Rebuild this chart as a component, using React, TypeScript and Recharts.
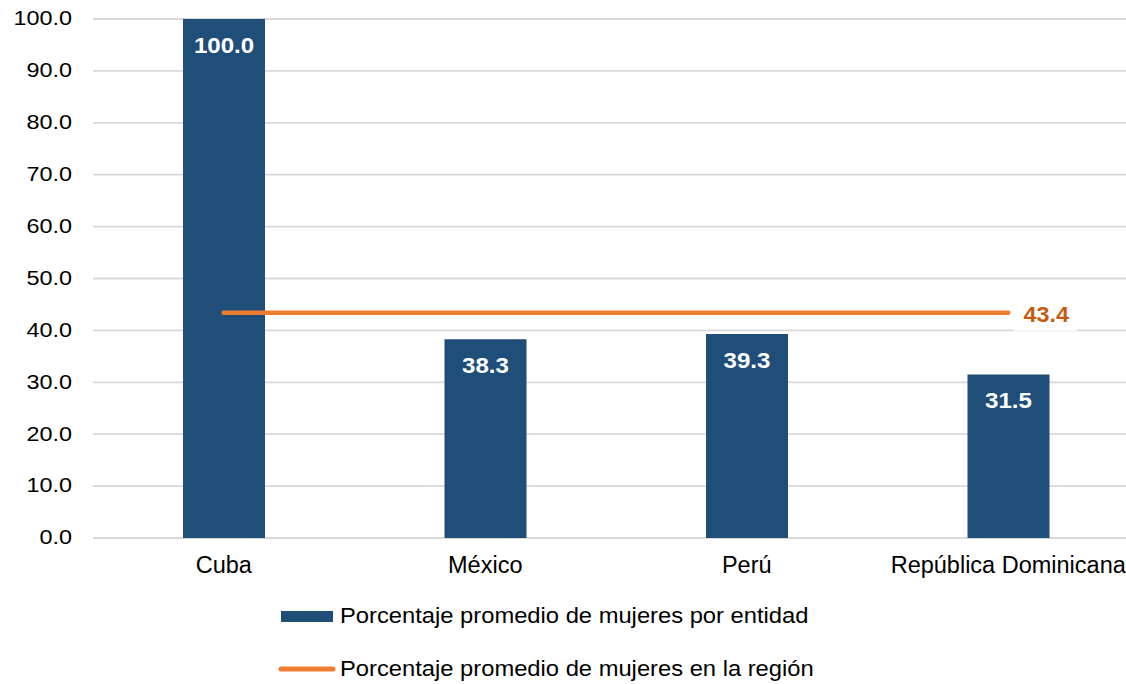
import React from "react"
import { ComposedChart, Bar, Line, XAxis, YAxis, CartesianGrid, LabelList, Legend } from "recharts"

const paises = ["Cuba", "México", "Perú", "República Dominicana"]
const porEntidad = [100.0, 38.3, 39.3, 31.5]
const region = [43.4, 43.4, 43.4, 43.4]
const yTicks = [0, 10, 20, 30, 40, 50, 60, 70, 80, 90, 100]
const leyenda = ["Porcentaje promedio de mujeres por entidad", "Porcentaje promedio de mujeres en la región"]

const data = paises.map((p, i) => ({ pais: p, entidad: porEntidad[i], region: region[i] }))

const FONT = "'Liberation Sans', Arial, sans-serif"
const AZUL = "#1F4E79"
const NARANJA = "#ED7D31"

const YTick = (props: any) => {
  const { x, y, payload } = props
  return (
    <text transform={`translate(${x},${y}) scale(1.2,1)`} textAnchor="end" dominantBaseline="central"
      fill="#000" fontSize={19.5} fontFamily={FONT}>
      {Number(payload.value).toFixed(1)}
    </text>
  )
}

const XTick = (props: any) => {
  const { x, y, payload } = props
  return (
    <text x={x} y={y + 35} textAnchor="middle" fill="#000" fontSize={23.5} fontFamily={FONT}>
      {payload.value}
    </text>
  )
}

const BarLabel = (props: any) => {
  const { x, y, width, value } = props
  return (
    <text transform={`translate(${x + width / 2},${y + 26}) scale(1.12,1)`} fill="#fff" fontSize={21.5}
      fontWeight="bold" fontFamily={FONT} textAnchor="middle" dominantBaseline="central">
      {Number(value).toFixed(1)}
    </text>
  )
}

const RegionLabel = (props: any) => {
  const { x, y, value, index } = props
  if (index !== paises.length - 1) return null
  return (
    <g>
      <rect x={x + 6} y={y - 20} width={63} height={38} fill="#fff" />
      <text transform={`translate(${x + 38},${y + 1}) scale(1.06,1)`} fill="#C55A11" fontSize={22}
        fontWeight="bold" fontFamily={FONT} textAnchor="middle" dominantBaseline="central">
        {Number(value).toFixed(1)}
      </text>
    </g>
  )
}

const Leyenda = () => (
  <svg width={1126} height={92} style={{ display: "block" }}>
    <rect x={281} y={17} width={52} height={11} fill={AZUL} />
    <text transform="translate(340,28.7) scale(1.08,1)" fontSize={22} fontFamily={FONT} fill="#000">{leyenda[0]}</text>
    <line x1={281} x2={333} y1={75} y2={75} stroke={NARANJA} strokeWidth={5} strokeLinecap="round" />
    <text transform="translate(340,82) scale(1.08,1)" fontSize={22} fontFamily={FONT} fill="#000">{leyenda[1]}</text>
  </svg>
)

export default function App() {
  return (
    <div style={{ position: "absolute", left: 0, top: 0, width: 1126, height: 684, overflow: "hidden", background: "#fff" }}>
      <ComposedChart width={1150} height={684} data={data} margin={{ top: 19, right: 11, bottom: 14, left: 0 }}>
        <CartesianGrid stroke="#D9D9D9" strokeWidth={1.8} vertical={false} />
        <XAxis dataKey="pais" axisLine={false} tickLine={false} tickSize={0} tickMargin={0} height={40}
          tick={<XTick />} interval={0} />
        <YAxis domain={[0, 100]} ticks={yTicks} axisLine={false} tickLine={false} tickSize={0} tickMargin={21} width={93}
          tick={<YTick />} />
        <Legend verticalAlign="bottom" height={92} content={() => <Leyenda />}
          wrapperStyle={{ top: 594, left: 0, width: 1126 }} />
        <Bar dataKey="entidad" fill={AZUL} barSize={82} isAnimationActive={false}>
          <LabelList dataKey="entidad" content={<BarLabel />} />
        </Bar>
        <Line dataKey="region" stroke={NARANJA} strokeWidth={4.5} strokeLinecap="round" dot={false}
          activeDot={false} isAnimationActive={false}>
          <LabelList dataKey="region" content={<RegionLabel />} />
        </Line>
      </ComposedChart>
    </div>
  )
}
